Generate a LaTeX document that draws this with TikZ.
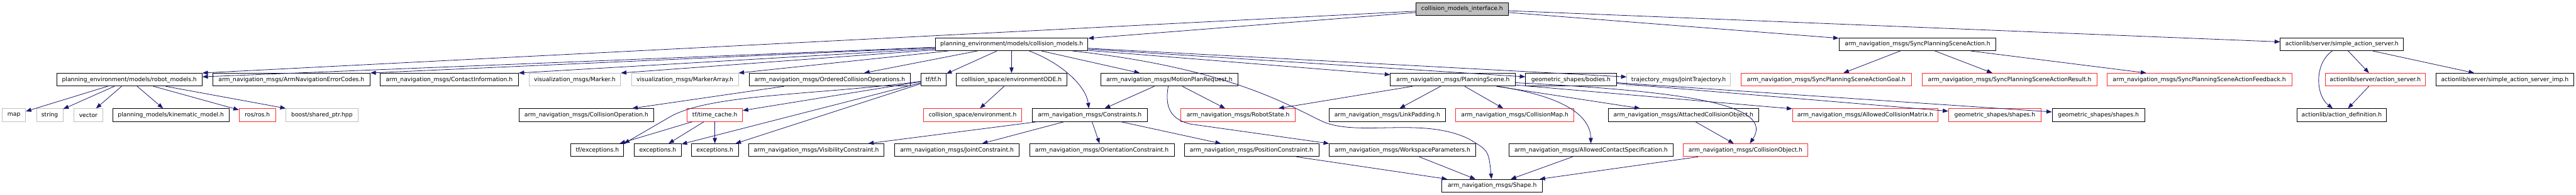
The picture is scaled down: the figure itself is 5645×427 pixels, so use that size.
\documentclass[tikz,border=0pt]{standalone}
\usepackage{fontspec}
\setmainfont{DejaVu Sans}
\usepackage{tikz}
\usetikzlibrary{arrows.meta, positioning}
\usepackage{xcolor}
\definecolor{midblue}{RGB}{25,25,112}
\definecolor{grey75}{RGB}{191,191,191}
\definecolor{truncred}{RGB}{255,40,40}
\tikzstyle{hdr} = [rectangle, draw=black, line width=1.2pt, minimum height=28pt, inner sep=0pt, text centered, font=\fontsize{12.7}{15}\selectfont]
\tikzstyle{sys} = [hdr, draw=grey75]
\tikzstyle{trunc} = [hdr, draw=truncred]
\tikzstyle{root} = [hdr, fill=grey75]
\tikzstyle{arrow} = [line width=1.1pt, draw=midblue, -{Triangle[length=12pt,width=9pt]}]

\begin{document}
\begin{tikzpicture}[x=1pt, y=-1pt]
        \useasboundingbox (0,0) rectangle (5645,427);
        % top level
        \node (cmi) [root, minimum width=202pt] at (3204,19.5) {collision\_models\_interface.h};
        % level 1
        \node (cm) [hdr, minimum width=334pt] at (2217,97) {planning\_environment/models/collision\_models.h};
        \node (spsa) [hdr, minimum width=344pt] at (4202,97) {arm\_navigation\_msgs/SyncPlanningSceneAction.h};
        \node (sas) [hdr, minimum width=270pt] at (5132,97) {actionlib/server/simple\_action\_server.h};
        % level 2
        \node (rm) [hdr, minimum width=319pt] at (283.5,174.5) {planning\_environment/models/robot\_models.h};
        \node (anec) [hdr, minimum width=345pt] at (638.5,174.5) {arm\_navigation\_msgs/ArmNavigationErrorCodes.h};
        \node (ci) [hdr, minimum width=303pt] at (984.5,174.5) {arm\_navigation\_msgs/ContactInformation.h};
        \node (mk) [sys, minimum width=201pt] at (1259.5,174.5) {visualization\_msgs/Marker.h};
        \node (mka) [sys, minimum width=234pt] at (1501,174.5) {visualization\_msgs/MarkerArray.h};
        \node (oco) [hdr, minimum width=353pt] at (1818.5,174.5) {arm\_navigation\_msgs/OrderedCollisionOperations.h};
        \node (tf) [hdr, minimum width=55pt] at (2045.5,174.5) {tf/tf.h};
        \node (ode) [hdr, minimum width=243pt] at (2216.5,174.5) {collision\_space/environmentODE.h};
        \node (mpr) [hdr, minimum width=301pt] at (2562.5,174.5) {arm\_navigation\_msgs/MotionPlanRequest.h};
        \node (ps) [hdr, minimum width=274pt] at (3184,174.5) {arm\_navigation\_msgs/PlanningScene.h};
        \node (bod) [hdr, minimum width=199pt] at (3442.5,174.5) {geometric\_shapes/bodies.h};
        \node (jt) [sys, minimum width=227pt] at (3678.5,174.5) {trajectory\_msgs/JointTrajectory.h};
        \node (goal) [trunc, minimum width=374pt] at (4002,174.5) {arm\_navigation\_msgs/SyncPlanningSceneActionGoal.h};
        \node (res) [trunc, minimum width=384pt] at (4404,174.5) {arm\_navigation\_msgs/SyncPlanningSceneActionResult.h};
        \node (fb) [trunc, minimum width=405pt] at (4819.5,174.5) {arm\_navigation\_msgs/SyncPlanningSceneActionFeedback.h};
        \node (as) [trunc, minimum width=220pt] at (5205,174.5) {actionlib/server/action\_server.h};
        \node (sasi) [hdr, minimum width=302pt] at (5489,174.5) {actionlib/server/simple\_action\_server\_imp.h};
        % level 3
        \node (map) [sys, minimum width=51pt] at (30.5,252) {map};
        \node (string) [sys, minimum width=58pt] at (109,252) {string};
        \node (vector) [sys, minimum width=63pt] at (193.5,252) {vector};
        \node (km) [hdr, minimum width=255pt] at (374.5,252) {planning\_models/kinematic\_model.h};
        \node (ros) [trunc, minimum width=80pt] at (564,252) {ros/ros.h};
        \node (bsp) [sys, minimum width=159pt] at (705.5,252) {boost/shared\_ptr.hpp};
        \node (co) [hdr, minimum width=294pt] at (1285,252) {arm\_navigation\_msgs/CollisionOperation.h};
        \node (tc) [trunc, minimum width=121pt] at (1566.5,252) {tf/time\_cache.h};
        \node (env) [trunc, minimum width=215pt] at (2131.5,252) {collision\_space/environment.h};
        \node (cons) [hdr, minimum width=252pt] at (2388,252) {arm\_navigation\_msgs/Constraints.h};
        \node (rs) [trunc, minimum width=250pt] at (2713,252) {arm\_navigation\_msgs/RobotState.h};
        \node (lp) [hdr, minimum width=254pt] at (3040,252) {arm\_navigation\_msgs/LinkPadding.h};
        \node (cmap) [trunc, minimum width=259pt] at (3319.5,252) {arm\_navigation\_msgs/CollisionMap.h};
        \node (aco) [hdr, minimum width=330pt] at (3689,252) {arm\_navigation\_msgs/AttachedCollisionObject.h};
        \node (acm) [trunc, minimum width=319pt] at (4087.5,252) {arm\_navigation\_msgs/AllowedCollisionMatrix.h};
        \node (shr) [trunc, minimum width=203pt] at (4371.5,252) {geometric\_shapes/shapes.h};
        \node (shb) [hdr, minimum width=203pt] at (4598.5,252) {geometric\_shapes/shapes.h};
        \node (ad) [hdr, minimum width=195pt] at (5131.5,252) {actionlib/action\_definition.h};
        % level 4
        \node (tfe) [hdr, minimum width=116pt] at (1309,329) {tf/exceptions.h};
        \node (exa) [hdr, minimum width=103pt] at (1441.5,329) {exceptions.h};
        \node (exb) [hdr, minimum width=103pt] at (1566.5,329) {exceptions.h};
        \node (vc) [hdr, minimum width=296pt] at (1789,329) {arm\_navigation\_msgs/VisibilityConstraint.h};
        \node (jc) [hdr, minimum width=272pt] at (2097,329) {arm\_navigation\_msgs/JointConstraint.h};
        \node (oc) [hdr, minimum width=317pt] at (2414.5,329) {arm\_navigation\_msgs/OrientationConstraint.h};
        \node (pc) [hdr, minimum width=295pt] at (2742.5,329) {arm\_navigation\_msgs/PositionConstraint.h};
        \node (wp) [hdr, minimum width=321pt] at (3073.5,329) {arm\_navigation\_msgs/WorkspaceParameters.h};
        \node (acs) [hdr, minimum width=359pt] at (3486.5,329) {arm\_navigation\_msgs/AllowedContactSpecification.h};
        \node (cobj) [trunc, minimum width=272pt] at (3825,329) {arm\_navigation\_msgs/CollisionObject.h};
        % level 5
        \node (shape) [hdr, minimum width=220pt] at (3270,407) {arm\_navigation\_msgs/Shape.h};

        % includes of the interface
        \draw [arrow] (cmi) -- (cm);
        \draw [arrow] (cmi) -- (rm.north east);
        \draw [arrow] (cmi) -- (spsa);
        \draw [arrow] (cmi) -- (sas);
        % collision_models.h
        \draw [arrow] (cm) -- (rm);
        \draw [arrow] (cm) -- (anec.north east);
        \draw [arrow] (cm) -- (ci.north east);
        \draw [arrow] (cm) -- (mk.north east);
        \draw [arrow] (cm) -- (mka.north east);
        \draw [arrow] (cm) -- (oco);
        \draw [arrow] (cm) -- (tf);
        \draw [arrow] (cm) -- (ode);
        \draw [arrow] (cm) .. controls (2330,140) and (2380,190) .. (cons);
        \draw [arrow] (cm) -- (mpr);
        \draw [arrow] (cm) -- (ps);
        \draw [arrow] (cm) -- (bod);
        \draw [arrow] (cm) -- (jt);
        \draw [arrow] (cm) .. controls (2700,150) and (2830,235) .. (2900,267) .. controls (2980,300) and (3120,255) .. (3220,305) .. controls (3262,330) .. (shape);
        % robot_models.h
        \draw [arrow] (rm) -- (map);
        \draw [arrow] (rm) -- (string);
        \draw [arrow] (rm) -- (vector);
        \draw [arrow] (rm) -- (km);
        \draw [arrow] (rm) -- (ros);
        \draw [arrow] (rm) -- (bsp);
        \draw [arrow] (oco) -- (co);
        % tf
        \draw [arrow] (tf) .. controls (1800,208) and (1560,205) .. (1470,255) -- (tfe.north east);
        \draw [arrow] (tf) -- (tc);
        \draw [arrow] (tf) -- (exa);
        \draw [arrow] (tf) -- (exb);
        \draw [arrow] (tc) -- (tfe);
        \draw [arrow] (tc) -- (exa);
        \draw [arrow] (tc) -- (exb);
        \draw [arrow] (ode) -- (env);
        % motion plan request and constraints
        \draw [arrow] (mpr) -- (cons);
        \draw [arrow] (mpr) -- (rs);
        \draw [arrow] (mpr) .. controls (2552,235) and (2565,262) .. (2610,272) -- (wp.north west);
        \draw [arrow] (cons) -- (vc);
        \draw [arrow] (cons) -- (jc);
        \draw [arrow] (cons) -- (oc);
        \draw [arrow] (cons) -- (pc);
        \draw [arrow] (pc) -- (shape);
        \draw [arrow] (wp) -- (shape);
        % planning scene
        \draw [arrow] (ps) -- (rs);
        \draw [arrow] (ps) -- (lp);
        \draw [arrow] (ps) -- (cmap);
        \draw [arrow] (ps) -- (aco);
        \draw [arrow] (ps) .. controls (3420,210) and (3485,250) .. (acs);
        \draw [arrow] (ps) .. controls (3700,200) and (3890,230) .. (cobj);
        \draw [arrow] (ps) -- (acm);
        \draw [arrow] (bod) -- (shr);
        \draw [arrow] (bod) -- (shb);
        \draw [arrow] (aco) -- (cobj);
        \draw [arrow] (acs) -- (shape);
        \draw [arrow] (cobj) -- (shape);
        % sync action
        \draw [arrow] (spsa) -- (goal);
        \draw [arrow] (spsa) -- (res);
        \draw [arrow] (spsa) -- (fb);
        % action server
        \draw [arrow] (sas) -- (as);
        \draw [arrow] (sas) .. controls (5070,140) and (5075,210) .. (ad);
        \draw [arrow] (sas) -- (sasi);
        \draw [arrow] (as) -- (ad);
    \end{tikzpicture}
\end{document}
